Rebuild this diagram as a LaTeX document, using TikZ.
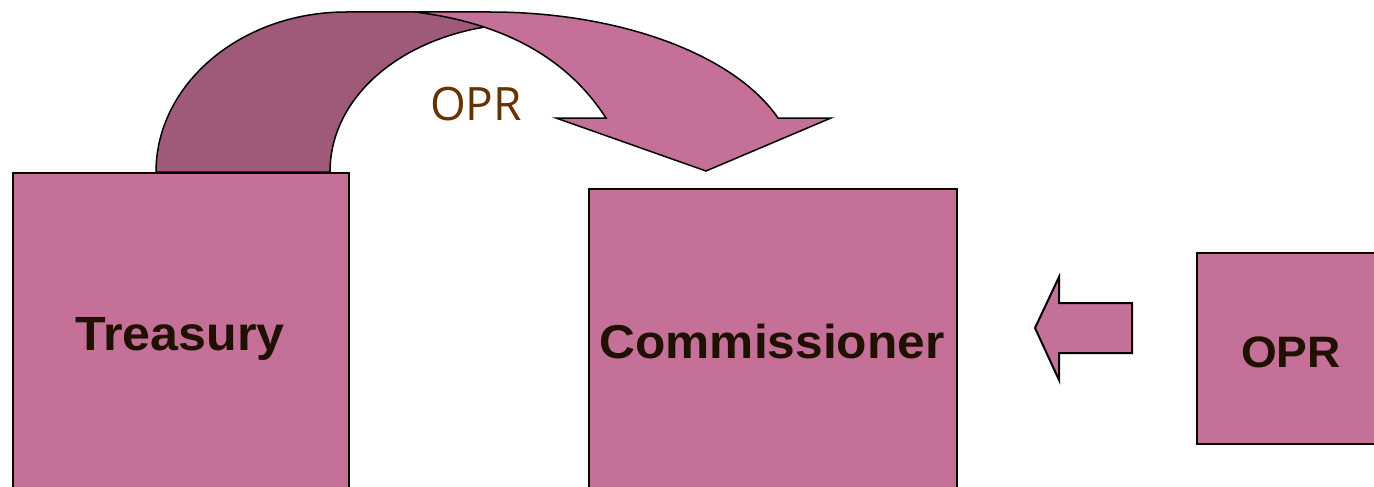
\documentclass[tikz,border=0pt]{standalone}
\usepackage{fontspec}
\setmainfont{Liberation Sans}
\newfontfamily\boxfont[FakeStretch=1.045]{Liberation Sans}
\newfontfamily\labelfont{Open Sans}
\definecolor{pinkfill}{RGB}{196,112,152}
\definecolor{darkband}{RGB}{159,90,122}
\definecolor{boxtext}{RGB}{32,16,0}
\definecolor{oprbrown}{RGB}{102,51,0}
\begin{document}
\begin{tikzpicture}[x=1pt,y=-1pt,
  box/.style={draw=black, line width=2pt, fill=pinkfill, inner sep=0pt, anchor=north west},
  boxlabel/.style={text=boxtext, font=\boxfont\bfseries\fontsize{48}{50}\selectfont, anchor=base, inner sep=0pt},
  arrowshape/.style={draw=black, line width=1.5pt, line join=miter}]
\useasboundingbox (0,0) rectangle (1374,487);
\clip (0,0) rectangle (1374,487);
% curved arrow: dark underside
\path[arrowshape, fill=darkband]
  (156,172) .. controls (156,84) and (241,12) .. (346,12) -- (440,12) -- (485,27)
  .. controls (395,42) and (330,100) .. (330,172) -- cycle;
% curved arrow: light upper side with head
\path[arrowshape, fill=pinkfill]
  (415,12) -- (490,12) .. controls (619,12) and (734,54) .. (778,118)
  -- (831,118) -- (706,171) -- (556,118) -- (606,118)
  .. controls (575,70) and (520,25) .. (415,12) -- cycle;
\node[anchor=base, text=oprbrown, inner sep=0pt, font=\labelfont\fontsize{46}{46}\selectfont] (oprlabel) at (476,120) {OPR};
% boxes
\node[box, minimum width=336pt, minimum height=360pt] (treasury) at (12,172) {};
\node[box, minimum width=368pt, minimum height=320pt] (commissioner) at (588,188) {};
\node[box, minimum width=200pt, minimum height=191pt] (opr) at (1196,252) {};
\node[boxlabel] (treasurytext) at (180,350) {Treasury};
\node[boxlabel, font=\boxfont\bfseries\fontsize{47.5}{50}\selectfont] (commissionertext) at (772,358) {Commissioner};
\node[boxlabel, font=\boxfont\bfseries\fontsize{44}{46}\selectfont] (oprtext) at (1291,367) {OPR};
% block arrow from OPR to Commissioner
\path[draw=black, line width=2pt, fill=pinkfill, line join=miter]
  (1132,303) -- (1059,303) -- (1059,277) -- (1035,328) -- (1059,380) -- (1059,353) -- (1132,353) -- cycle;
\end{tikzpicture}
\end{document}
